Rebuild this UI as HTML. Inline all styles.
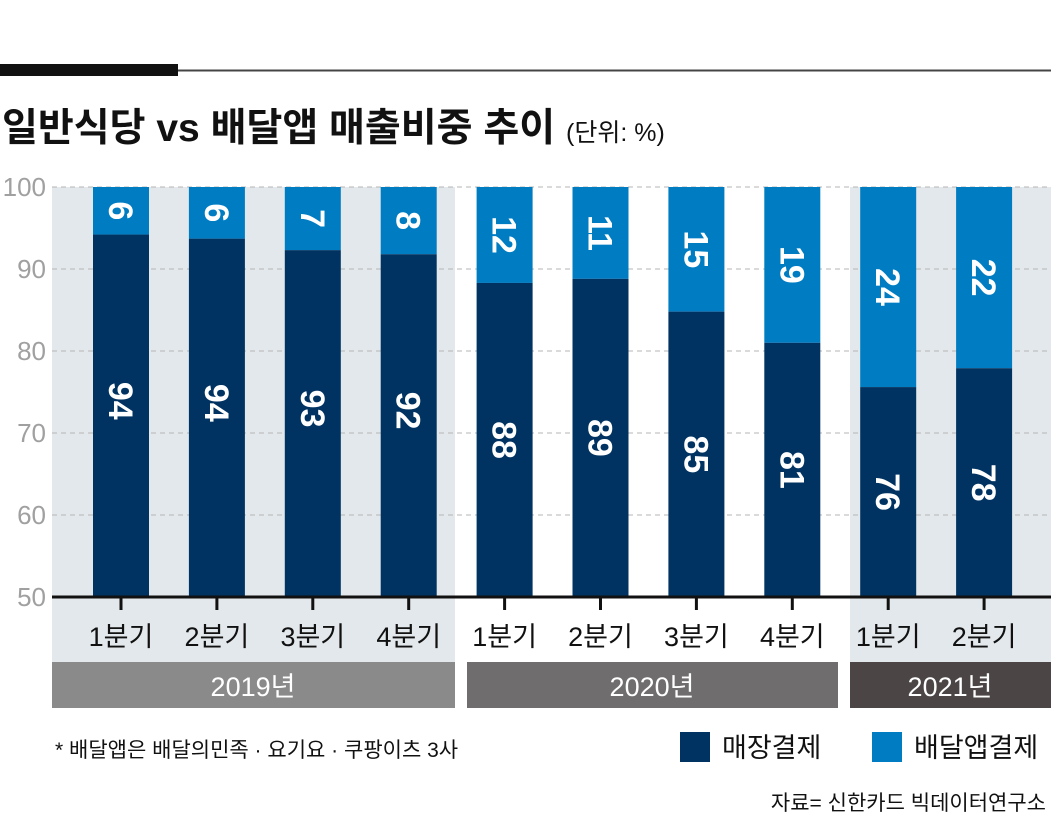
<!DOCTYPE html>
<html><head><meta charset="utf-8">
<style>
body{margin:0;width:1051px;height:831px;background:#fff;overflow:hidden;font-family:"Liberation Sans","Noto Sans CJK KR",sans-serif;}
svg text{font-family:"Liberation Sans","Noto Sans CJK KR",sans-serif;}
</style></head><body>
<svg width="1051" height="831" xmlns="http://www.w3.org/2000/svg">
<rect x="0" y="64" width="178" height="12" fill="#111"/>
<rect x="178" y="69.5" width="873" height="2" fill="#444"/>
<text x="2" y="141" font-size="39" font-weight="bold" fill="#111">일반식당 vs 배달앱 매출비중 추이 <tspan font-size="25" font-weight="normal">(단위: %)</tspan></text>
<rect x="52" y="187" width="403" height="475" fill="#e3e8ec"/>
<rect x="850" y="187" width="201" height="475" fill="#e3e8ec"/>
<g id="grid"></g><g id="bars"></g><g id="axis"></g>
<rect x="52" y="662" width="403" height="46" fill="#8a8a8a"/>
<rect x="467" y="662" width="371" height="46" fill="#6f6d6e"/>
<rect x="850" y="662" width="201" height="46" fill="#4b4546"/>
<text x="253" y="696" font-size="27" fill="#fff" text-anchor="middle">2019년</text>
<text x="652" y="696" font-size="27" fill="#fff" text-anchor="middle">2020년</text>
<text x="950" y="696" font-size="27" fill="#fff" text-anchor="middle">2021년</text>
<text x="55" y="757" font-size="21" fill="#111">* 배달앱은 배달의민족 · 요기요 · 쿠팡이츠 3사</text>
<rect x="680" y="732" width="30" height="30" fill="#003361"/>
<text x="722" y="757" font-size="27" fill="#111">매장결제</text>
<rect x="872" y="732" width="30" height="30" fill="#007cc2"/>
<text x="914" y="757" font-size="27" fill="#111">배달앱결제</text>
<text x="1046" y="810" font-size="21" fill="#111" text-anchor="end">자료= 신한카드 빅데이터연구소</text>
</svg>
<script>
const quarters=["1분기","2분기","3분기","4분기","1분기","2분기","3분기","4분기","1분기","2분기"];
const storeVals=[94.2,93.7,92.3,91.8,88.3,88.8,84.8,81.0,75.6,77.9];
const storeLabels=["94","94","93","92","88","89","85","81","76","78"];
const deliveryLabels=["6","6","7","8","12","11","15","19","24","22"];
const yTicks=[50,60,70,80,90,100];
const NS="http://www.w3.org/2000/svg";
const y=v=>597-(v-50)*8.2;
const x=i=>121+95.9*i;
function mk(t,a,p){const e=document.createElementNS(NS,t);for(const k in a)e.setAttribute(k,a[k]);p.appendChild(e);return e;}
const grid=document.getElementById('grid'),bars=document.getElementById('bars'),axis=document.getElementById('axis');
yTicks.forEach(t=>{
 if(t>50){const l=mk('line',{x1:52,x2:1051,y1:y(t),y2:y(t),stroke:'#b5b5b5','stroke-dasharray':'5,4','stroke-width':1},grid);
 
 }
 const tx=mk('text',{x:46,y:y(t)+9,'font-size':26,fill:'#a0a0a0','text-anchor':'end'},axis);
 tx.textContent=t;
 
 
});
quarters.forEach((q,i)=>{
 const cx=x(i),w=56;
 const d=mk('rect',{x:cx-w/2,y:y(100),width:w,height:y(storeVals[i])-y(100),fill:'#007cc2'},bars);
 
 
 const s=mk('rect',{x:cx-w/2,y:y(storeVals[i]),width:w,height:597-y(storeVals[i]),fill:'#003361'},bars);
 
 
 const dy=(y(100)+y(storeVals[i]))/2;
 const dl=mk('text',{x:0,y:0,'font-size':34,'font-weight':'bold',fill:'#fff','text-anchor':'middle',transform:`translate(${cx-12},${dy}) rotate(90)`},bars);
 dl.textContent=deliveryLabels[i];
 
 
 const sy=(y(storeVals[i])+597)/2-(i<4?15:0);
 const sl=mk('text',{x:0,y:0,'font-size':34,'font-weight':'bold',fill:'#fff','text-anchor':'middle',transform:`translate(${cx-12},${sy}) rotate(90)`},bars);
 sl.textContent=storeLabels[i];
 
 
 const tk=mk('line',{x1:cx,x2:cx,y1:597,y2:610,stroke:'#111','stroke-width':3},axis);
 
 
 const ql=mk('text',{x:cx,y:646,'font-size':27,fill:'#111','text-anchor':'middle'},axis);
 ql.textContent=q;
 
 
});
const ax=mk('line',{x1:52,x2:1051,y1:597,y2:597,stroke:'#111','stroke-width':3},axis);


</script>
</body></html>
